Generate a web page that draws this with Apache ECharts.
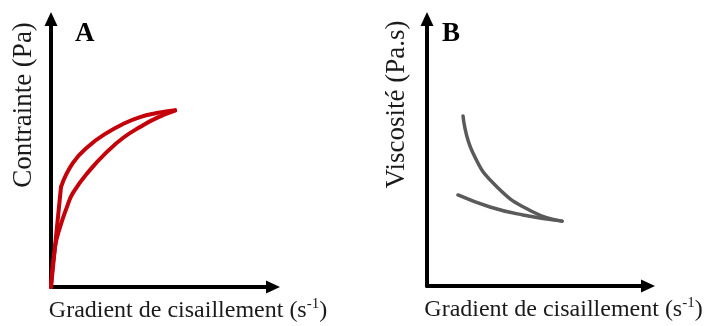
<!DOCTYPE html>
<html><head><meta charset="utf-8">
<script src="https://cdn.jsdelivr.net/npm/echarts@6/dist/echarts.min.js"></script>
<style>html,body{margin:0;padding:0;background:#fff}#c{width:709px;height:326px}</style>
</head><body><div id="c"></div>
<script>
// Panel A: shear stress vs shear rate (hysteresis loop)
const aUpperStart = [[0, 0], [4.5, 37.3]];
const aUpper = [[4.5, 37.3], [9.9, 46.3], [17.6, 53.0], [25.2, 57.5], [32.4, 60.8], [40.1, 63.4], [47.7, 64.9], [55.9, 66.0]];
const aLower = [[0, 0], [1.8, 14.9], [4.1, 22.4], [7.2, 29.9], [9.9, 35.1], [17.6, 43.7], [25.2, 50.4], [32.4, 55.6], [40.1, 59.7], [47.7, 63.1], [55.9, 65.8]];
// Panel B: viscosity vs shear rate
const bUpper = [[16.3, 63.7], [20.8, 49.8], [31.7, 37.1], [48.0, 27.7], [61.1, 24.3]];
const bLower = [[14.0, 34.1], [28.5, 29.6], [43.4, 26.6], [61.1, 24.3]];
const panelLabels = ['A', 'B'];
const yNames = ['Contrainte (Pa)', 'Viscosité (Pa.s)'];
const xNameText = 'Gradient de cisaillement (s';

const FONT = '"Liberation Serif", "Times New Roman", serif';
const chart = echarts.init(document.getElementById('c'), null, {renderer: 'canvas'});

function xAxisCfg(gridIndex) {
  return {
    type: 'value', gridIndex, min: 0, max: 100,
    axisLine: {show: true, lineStyle: {color: '#000', width: 4}, symbol: ['none', 'triangle'], symbolSize: [13, 14]},
    axisTick: {show: false}, axisLabel: {show: false}, splitLine: {show: false},
    name: '{t|' + xNameText + '}{s|-1}{t|)}',
    nameLocation: 'middle', nameGap: 10,
    nameTextStyle: {
      padding: [0, 0, 0, 52],
      rich: {
        t: {fontFamily: FONT, fontSize: 24, color: '#1a1a1a'},
        s: {fontFamily: FONT, fontSize: 15, color: '#1a1a1a', padding: [0, 0, 12, 0]}
      }
    }
  };
}
function yAxisCfg(gridIndex) {
  return {
    type: 'value', gridIndex, min: 0, max: 100,
    axisLine: {show: true, lineStyle: {color: '#000', width: 4}, symbol: ['none', 'triangle'], symbolSize: [13, 14]},
    axisTick: {show: false}, axisLabel: {show: false}, splitLine: {show: false},
    name: yNames[gridIndex], nameLocation: 'middle', nameRotate: 90, nameGap: gridIndex === 0 ? 14 : 17,
    nameTextStyle: {fontFamily: FONT, fontSize: 27, color: '#1a1a1a', padding: [0, 0, 0, 96]}
  };
}
function line(data, xi, color, width, smooth) {
  return {type: 'line', xAxisIndex: xi, yAxisIndex: xi, data, smooth, symbol: 'none',
    lineStyle: {color, width, cap: 'round', join: 'round'}, silent: true, animation: false};
}
const RED = '#c4000a', GREY = '#5a5a5a';
chart.setOption({
  animation: false,
  title: [
    {text: panelLabels[0], left: 75, top: 21, padding: 0, textStyle: {fontFamily: FONT, fontSize: 27, fontWeight: 'bold', color: '#000'}},
    {text: panelLabels[1], left: 442, top: 21, padding: 0, textStyle: {fontFamily: FONT, fontSize: 27, fontWeight: 'bold', color: '#000'}}
  ],
  grid: [
    {left: 51, right: 436, top: 19, bottom: 39, outerBoundsMode: 'none', containLabel: false},
    {left: 427, right: 61, top: 19, bottom: 40, outerBoundsMode: 'none', containLabel: false}
  ],
  xAxis: [xAxisCfg(0), xAxisCfg(1)],
  yAxis: [yAxisCfg(0), yAxisCfg(1)],
  series: [
    line(aUpperStart, 0, RED, 4, false),
    line(aUpper, 0, RED, 4, 0.5),
    line(aLower, 0, RED, 4, 0.5),
    line(bUpper, 1, GREY, 3.5, 0.5),
    line(bLower, 1, GREY, 3.5, 0.5)
  ]
});
</script></body></html>
